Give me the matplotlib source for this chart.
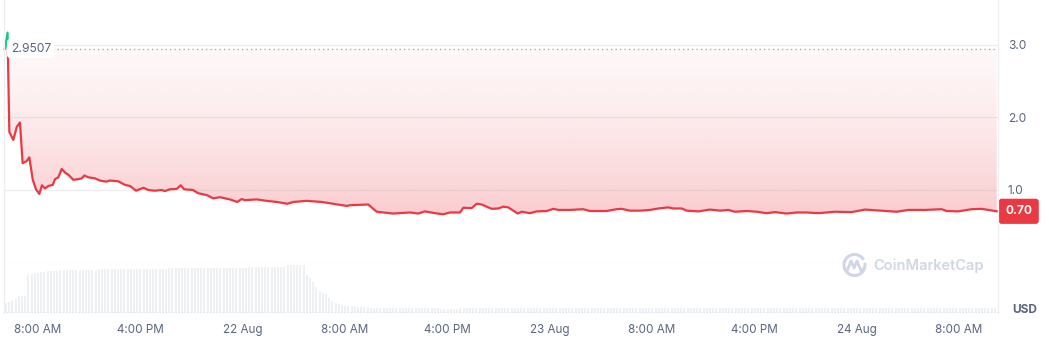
import numpy as np
import matplotlib.pyplot as plt
from matplotlib.patches import Polygon, Rectangle, Arc
from matplotlib.lines import Line2D
from matplotlib.transforms import blended_transform_factory

plt.rcParams['font.family'] = ['Inter', 'DejaVu Sans']

# price, hours counted from 21 Aug 00:00
price_hours = [5.46, 5.66, 5.80, 6.11, 6.38, 6.63, 6.84, 7.16, 7.36, 7.63, 7.88,
               8.14, 8.35, 8.59, 8.84, 9.19, 9.37, 9.63, 9.89, 10.15, 10.41, 10.80,
               11.19, 11.45, 11.66, 11.97, 12.49, 12.88, 13.35, 13.66, 14.31, 14.84,
               15.23, 15.70, 16.27, 16.66, 17.18, 17.70, 17.96, 18.35, 18.88, 19.19,
               19.45, 20.13, 20.56, 21.22, 21.73, 22.26, 23.04, 23.61, 23.95, 24.21,
               25.13, 25.91, 26.69, 27.52, 27.98, 29.03, 30.20, 31.11, 32.16, 32.41,
               33.84, 34.50, 35.80, 37.10, 37.75, 38.27, 39.05, 39.70, 40.23, 41.01,
               41.27, 41.92, 42.31, 42.70, 43.48, 44.00, 44.39, 44.78, 45.17, 45.52,
               45.83, 46.48, 47.00, 47.78, 48.30, 48.69, 49.60, 50.64, 51.16, 52.47,
               53.24, 53.63, 54.28, 55.07, 55.85, 56.50, 57.28, 57.67, 58.33, 58.72,
               59.63, 60.54, 61.32, 61.97, 62.49, 63.41, 64.19, 64.97, 65.62, 66.53,
               67.31, 68.09, 69.00, 70.30, 71.61, 72.65, 73.95, 75.13, 76.03, 77.34,
               78.64, 79.03, 79.94, 80.98, 81.77, 82.28, 82.94]
price_values = [2.9507, 3.17, 1.80, 1.69, 1.87, 1.93, 1.37, 1.40, 1.45, 1.14, 1.01,
                0.945, 1.065, 1.02, 1.055, 1.07, 1.15, 1.175, 1.29, 1.24, 1.21, 1.14,
                1.15, 1.16, 1.20, 1.175, 1.16, 1.13, 1.115, 1.13, 1.12, 1.07,
                1.055, 0.99, 1.03, 1.00, 0.99, 1.00, 0.985, 1.01, 1.015, 1.065,
                1.01, 1.00, 0.955, 0.93, 0.885, 0.90, 0.87, 0.835, 0.875, 0.86,
                0.87, 0.85, 0.835, 0.81, 0.835, 0.85, 0.835, 0.81, 0.78, 0.79,
                0.80, 0.70, 0.675, 0.69, 0.675, 0.705, 0.68, 0.665, 0.69, 0.69,
                0.755, 0.75, 0.81, 0.80, 0.74, 0.745, 0.77, 0.76, 0.715, 0.675,
                0.70, 0.68, 0.705, 0.71, 0.74, 0.725, 0.725, 0.735, 0.71, 0.71,
                0.735, 0.74, 0.715, 0.715, 0.725, 0.745, 0.76, 0.745, 0.745, 0.715,
                0.705, 0.73, 0.715, 0.725, 0.70, 0.71, 0.70, 0.68, 0.695, 0.675,
                0.69, 0.69, 0.68, 0.70, 0.695, 0.73, 0.715, 0.70, 0.725, 0.725,
                0.735, 0.71, 0.705, 0.735, 0.74, 0.725, 0.706]
base_price = 2.9507
last_label = '0.70'

# relative volume (bar height in px of the 50 px volume strip), run-length coded
vol_levels = [9.7, 11, 13, 14.3, 17, 17.5, 38, 39.5, 40, 40.5, 41, 41.5, 42, 42.5,
              43, 44, 45.5, 46.5, 48, 38, 35, 31, 26, 22, 20, 19, 15, 12, 10, 8.7,
              8, 7.3, 6.3, 5.3, 4.3, 5.3]
vol_counts = [1, 1, 1, 1, 2, 1, 1, 1, 1, 1, 1, 1, 2, 2,
              12, 22, 25, 12, 6, 1, 1, 1, 1, 1, 1, 1, 1, 1, 1, 1,
              1, 4, 4, 22, 6, 168]
vol_start = 5.54
vol_step = 0.25

tick_hours = [8, 16, 24, 32, 40, 48, 56, 64, 72, 80]
tick_labels = ['8:00 AM', '4:00 PM', '22 Aug', '8:00 AM', '4:00 PM', '23 Aug',
               '8:00 AM', '4:00 PM', '24 Aug', '8:00 AM']
price_ticks = [1.0, 2.0, 3.0]

RED = '#ea3943'
GREEN = '#16c784'
TXT = '#58667e'
GRID = (0.45, 0.45, 0.5, 0.12)

W, H = 1049, 346
fig = plt.figure(figsize=(W / 100, H / 100), dpi=100)
ax = fig.add_axes([3 / W, 1 - 262.5 / H, 995 / W, 262.5 / H])
axv = fig.add_axes([3 / W, 1 - 313 / H, 995 / W, 50.5 / H], sharex=ax)

xmin, xmax = 5.305, 83.04
ax.set_xlim(xmin, xmax)
ax.set_ylim(0, 3.62)
for a in (ax, axv):
    for s in a.spines.values():
        s.set_visible(False)
    a.set_facecolor('none')

# gradient fill between start price and the line
h = np.array(price_hours)
p = np.array(price_values)
lo = 0.6
t = np.clip((base_price - np.linspace(lo, base_price, 256)) / 2.25, 0, 1)
alpha = 0.04 + 0.21 * t ** 1.4
img = np.zeros((256, 1, 4))
img[:, 0, :3] = np.array([234, 57, 67]) / 255
img[:, 0, 3] = alpha
im = ax.imshow(img, extent=[xmin, xmax, lo, base_price], origin='lower',
               aspect='auto', interpolation='bilinear', zorder=1)
poly = Polygon([(h[0], base_price)] + list(zip(h, np.minimum(p, base_price))) +
               [(h[-1], base_price)], closed=True, facecolor='none',
               edgecolor='none', transform=ax.transData)
ax.add_patch(poly)
im.set_clip_path(poly)

# grid
for y in price_ticks:
    ax.axhline(y, color=GRID, lw=0.9, zorder=2)
ax.axhline(0, color=GRID, lw=0.9, zorder=2)
ax.axhline(base_price, color='#9aa3b2', lw=0.9, ls=(0, (1, 2.6)), zorder=3)

# price line, green above the start price and red below
below = Rectangle((xmin - 5, -1), 100, base_price + 1, transform=ax.transData)
above = Rectangle((xmin - 5, base_price), 100, 5, transform=ax.transData)
lr, = ax.plot(h, p, color=RED, lw=1.6, zorder=4, solid_joinstyle='round')
lr.set_clip_path(below)
lg, = ax.plot(h, p, color=GREEN, lw=1.6, zorder=4, solid_joinstyle='round')
lg.set_clip_path(above)

# right axis labels
ax.yaxis.tick_right()
ax.set_yticks(price_ticks)
ax.set_yticklabels([f'{v:.1f}' for v in price_ticks])
ax.tick_params(axis='y', length=0, pad=7, labelsize=8.6, labelcolor=TXT)
ax.tick_params(axis='x', bottom=False, labelbottom=False)

# start price and last price tags
bl = blended_transform_factory(ax.transAxes, ax.transData)
ax.annotate(f'{base_price}', xy=(0, base_price), xycoords=bl, xytext=(5.5, 0),
            textcoords='offset points', ha='left', va='center', fontsize=8.7,
            color=TXT, zorder=6,
            bbox=dict(boxstyle='round,pad=0.3,rounding_size=0.3', fc='white', ec='none'))
ax.annotate(last_label, xy=(1, price_values[-1]), xycoords=bl, xytext=(5.2, 0),
            textcoords='offset points', ha='left', va='center', fontsize=8.6,
            color='white', fontweight='bold', zorder=6, annotation_clip=False,
            bbox=dict(boxstyle='round,pad=0.55,rounding_size=0.25', fc=RED, ec='none'))

# volume bars
vol = np.repeat(vol_levels, vol_counts)
vh = vol_start + vol_step * np.arange(len(vol))
axv.bar(vh, vol, width=0.16, color='#eef1f4', zorder=1)
axv.set_ylim(0, 50.5)
axv.axhline(0.6, color='#dfe3ea', lw=0.9, ls=(0, (1, 1.5)), zorder=2)
axv.set_yticks([])
axv.set_xticks(tick_hours)
axv.set_xticklabels(tick_labels)
axv.tick_params(axis='x', length=0, pad=8, labelsize=8.4, labelcolor=TXT)

# frame lines
for xp in (3.5, 998):
    fig.add_artist(Line2D([xp / W, xp / W], [1 - 313 / H, 1], color='#eceef2', lw=0.9))

fig.text(1012 / W, 1 - 310 / H, 'USD', fontsize=8.6, fontweight='bold', color=TXT,
         ha='left', va='center')

# watermark
WM = '#cfd6e4'
fig.add_artist(Arc((854.5 / W, 1 - 265 / H), 21 / W, 21 / H, theta1=60, theta2=390,
                   color=WM, lw=2.2))
fig.add_artist(Line2D(np.array([847, 851, 854, 857, 861, 864]) / W,
                      1 - np.array([271, 261, 268, 261, 271, 268]) / H,
                      color=WM, lw=2.0, solid_joinstyle='round'))
fig.text(873 / W, 1 - 265.5 / H, 'CoinMarketCap', fontsize=10.5, fontweight='semibold',
         color=WM, ha='left', va='center')

fig.savefig('out.png', dpi=100)
